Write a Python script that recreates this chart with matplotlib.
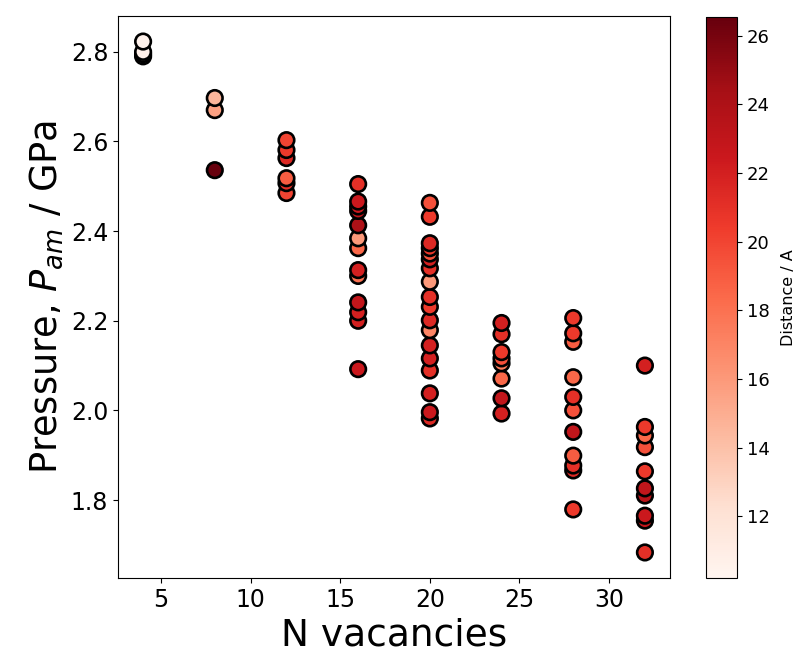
import numpy as np
import matplotlib.pyplot as plt

# -----------------------------
# Data
# -----------------------------
n_vac_4 = [2.79, 2.795, 2.80, 2.823]
dist_4 = [11.0, 10.8, 10.6, 10.5]

n_vac_8 = [2.536, 2.67, 2.697]
dist_8 = [26.5, 15.6, 14.6]

n_vac_12 = [2.485, 2.507, 2.518, 2.563, 2.581, 2.603]
dist_12 = [20.0, 21.0, 19.0, 21.5, 20.5, 20.0]

n_vac_16 = [2.092, 2.20, 2.219, 2.241, 2.30, 2.313, 2.362, 2.384,
            2.413, 2.445, 2.455, 2.466, 2.505]
dist_16 = [22.5, 22.0, 22.0, 23.0, 18.0, 22.0, 18.5, 16.0,
           24.0, 23.0, 22.5, 22.5, 21.0]

n_vac_20 = [1.982, 1.996, 2.038, 2.089, 2.116, 2.145, 2.179, 2.201,
            2.231, 2.253, 2.287, 2.317, 2.337, 2.35, 2.362, 2.373,
            2.432, 2.463]
dist_20 = [21.5, 22.5, 22.0, 21.0, 22.0, 22.0, 17.0, 21.5,
           20.5, 21.0, 16.0, 21.0, 22.0, 19.5, 20.5, 21.5,
           20.5, 19.5]

n_vac_24 = [1.993, 2.027, 2.071, 2.105, 2.116, 2.13, 2.17, 2.195]
dist_24 = [22.0, 23.0, 18.5, 17.5, 19.5, 20.5, 21.0, 22.0]

n_vac_28 = [1.779, 1.866, 1.877, 1.899, 1.952, 2.0, 2.030, 2.074,
            2.153, 2.172, 2.206]
dist_28 = [20.5, 21.5, 21.0, 19.0, 23.0, 19.5, 21.0, 18.5,
           19.0, 20.5, 20.5]

n_vac_32 = [1.683, 1.754, 1.765, 1.81, 1.826, 1.864, 1.918, 1.944,
            1.963, 2.10]
dist_32 = [21.0, 23.0, 22.5, 23.5, 23.0, 20.5, 19.5, 18.5,
           20.5, 22.0]

columns = {
    4: (n_vac_4, dist_4),
    8: (n_vac_8, dist_8),
    12: (n_vac_12, dist_12),
    16: (n_vac_16, dist_16),
    20: (n_vac_20, dist_20),
    24: (n_vac_24, dist_24),
    28: (n_vac_28, dist_28),
    32: (n_vac_32, dist_32),
}

x_all, p_all, d_all = [], [], []
for n, (pressures, dists) in columns.items():
    x_all += [n] * len(pressures)
    p_all += pressures
    d_all += dists

# -----------------------------
# Plot
# -----------------------------
fig = plt.figure(figsize=(8.02, 6.61), dpi=100)
ax = fig.add_axes([118 / 802, 1 - 578 / 661, 552 / 802, 562 / 661])
cax = fig.add_axes([706 / 802, 1 - 578 / 661, 31 / 802, 561 / 661])

sc = ax.scatter(x_all, p_all, c=d_all, cmap="Reds", vmin=10.2, vmax=26.55,
                s=125, edgecolors="black", linewidths=1.9)

ax.set_xlabel("N vacancies", fontsize=27)
ax.set_ylabel("Pressure, $P_{am}$ / GPa", fontsize=26.5)
ax.tick_params(labelsize=17)
ax.set_yticks([1.8, 2.0, 2.2, 2.4, 2.6, 2.8])

cb = fig.colorbar(sc, cax=cax)
cb.set_ticks([12, 14, 16, 18, 20, 22, 24, 26])
cb.ax.tick_params(labelsize=13)
cb.set_label("Distance / A", fontsize=11.5, labelpad=8)

fig.savefig("out.png", dpi=100)
